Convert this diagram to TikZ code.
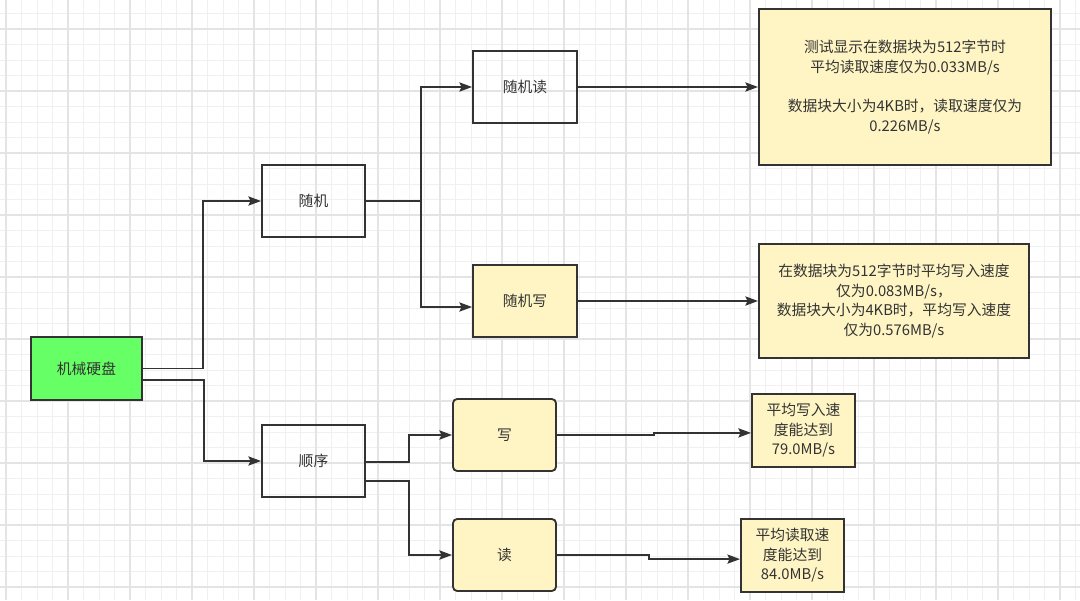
\documentclass[tikz,border=0pt]{standalone}
\usepackage{fontspec}
\setmainfont{Noto Sans CJK SC}
\usetikzlibrary{arrows.meta}
\definecolor{boxline}{HTML}{333333}
\definecolor{notefill}{HTML}{FFF5C4}
\definecolor{diskfill}{HTML}{66FF66}
\definecolor{gridminor}{HTML}{F0F0F0}
\definecolor{gridmajor}{HTML}{E4E4E4}
\tikzset{
  box/.style={draw=boxline, line width=1.3pt, text=boxline, inner sep=0pt, align=center,
    font=\fontsize{10.5}{13.9}\selectfont, minimum width=2.575cm, minimum height=1.8cm},
  note/.style={box, fill=notefill},
  flow/.style={draw=boxline, line width=1.3pt, -{Stealth[length=9pt,width=6.5pt,inset=1.5pt]}},
}
\def\wire{\draw[flow]}

\begin{document}
\begin{tikzpicture}[x=0.025cm,y=-0.025cm]
  \useasboundingbox[fill=white] (0,0) rectangle (1080,600);
  % grid
  \foreach \i in {0,...,69} \draw[gridminor,line width=0.6pt] (6+\i*15.5,0) -- (6+\i*15.5,600);
  \foreach \i in {0,...,37} \draw[gridminor,line width=0.6pt] (0,13.5+\i*15.5) -- (1080,13.5+\i*15.5);
  \foreach \i in {0,...,17} \draw[gridmajor,line width=0.8pt] (6+\i*62,0) -- (6+\i*62,600);
  \foreach \i in {0,...,9} \draw[gridmajor,line width=0.8pt] (0,29+\i*62) -- (1080,29+\i*62);

  % boxes
  \node[box, fill=diskfill, minimum width=2.775cm, minimum height=1.575cm] (disk) at (86.5,368.5) {机械硬盘};
  \node[box] (rand) at (313.5,201) {随机};
  \node[box] (seq) at (313.5,461) {顺序};
  \node[box, minimum width=2.6cm] (rread) at (525,87) {随机读};
  \node[note, minimum width=2.6cm] (rwrite) at (525,301) {随机写};
  \node[note, rounded corners=3pt] (wr) at (504.5,435) {写};
  \node[note, rounded corners=3pt] (rd) at (504.5,555) {读};
  \node[note, minimum width=7.3cm, minimum height=3.9cm] (rnote) at (905,87)
    {测试显示在数据块为512字节时\\平均读取速度仅为0.033MB/s\\[13.9pt]数据块大小为4KB时，读取速度仅为\\0.226MB/s};
  \node[note, minimum width=6.75cm, minimum height=2.85cm] (wnote) at (894,301)
    {在数据块为512字节时平均写入速度\\仅为0.083MB/s，\\数据块大小为4KB时，平均写入速度\\仅为0.576MB/s};
  \node[note, minimum height=1.825cm] (wspeed) at (803.5,430.5) {平均写入速\\度能达到\\79.0MB/s};
  \node[note, minimum height=1.825cm] (rspeed) at (792.5,555.5) {平均读取速\\度能达到\\84.0MB/s};

  % connectors
  \wire (disk.east) -- ++(60,0) |- (rand);
  \wire ([yshift=-0.28cm]disk.east) -- ++(61,0) |- (seq);
  \wire (rand.east) -- ++(55,0) |- (rread);
  \wire (rand.east) -- ++(55,0) |- ([yshift=-0.15cm]rwrite.west);
  \wire (rread.east) -- (rnote.west);
  \wire (rwrite.east) -- (wnote.west);
  \wire ([yshift=-0.03cm]seq.east) -- ++(43,0) |- (wr);
  \wire ([yshift=-0.5cm]seq.east) -- ++(43,0) |- (rd);
  \wire (wr.east) -- ++(97,0) |- ([yshift=-0.06cm]wspeed.west);
  \wire (rd.east) -- ++(92,0) |- ([yshift=-0.09cm]rspeed.west);
\end{tikzpicture}
\end{document}
